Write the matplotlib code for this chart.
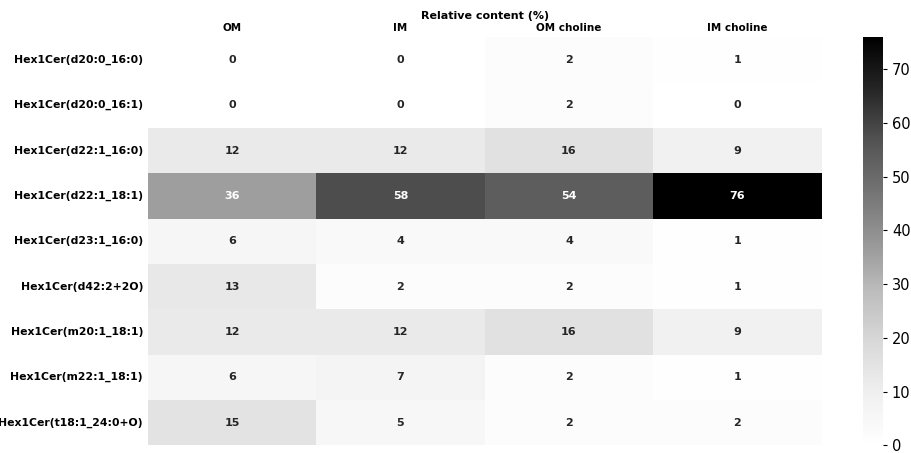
import numpy as np
import pandas as pd
import seaborn as sns
import matplotlib.pyplot as plt

lipids = ["Hex1Cer(d20:0_16:0)", "Hex1Cer(d20:0_16:1)", "Hex1Cer(d22:1_16:0)",
          "Hex1Cer(d22:1_18:1)", "Hex1Cer(d23:1_16:0)", "Hex1Cer(d42:2+2O)",
          "Hex1Cer(m20:1_18:1)", "Hex1Cer(m22:1_18:1)", "Hex1Cer(t18:1_24:0+O)"]
fractions = ["OM", "IM", "OM choline", "IM choline"]

om = [0, 0, 12, 36, 6, 13, 12, 6, 15]
im = [0, 0, 12, 58, 4, 2, 12, 7, 5]
om_choline = [2, 2, 16, 54, 4, 2, 16, 2, 2]
im_choline = [1, 0, 9, 76, 1, 1, 9, 1, 2]

df = pd.DataFrame({"OM": om, "IM": im, "OM choline": om_choline,
                   "IM choline": im_choline}, index=lipids)[fractions]

fig = plt.figure(figsize=(9.12, 4.53), dpi=100)
ax = fig.add_axes([0.162, 0.017, 0.739, 0.901])
cax = fig.add_axes([0.946, 0.017, 0.022, 0.901])

sns.heatmap(df, ax=ax, cbar_ax=cax, cmap="Greys", vmin=0,
            annot=True, fmt="d", annot_kws={"fontsize": 8, "fontweight": "bold"})

ax.xaxis.tick_top()
ax.tick_params(axis="both", length=0)
ax.set_xticklabels(fractions, fontsize=7.5, fontweight="bold", rotation=0)
ax.set_yticklabels(lipids, fontsize=7.8, fontweight="bold", rotation=0)
ax.tick_params(axis="x", pad=3)
ax.set_title("Relative content (%)", fontsize=8, fontweight="bold", pad=13)
ax.set_xlabel("")
ax.set_ylabel("")

cax.set_yticks(np.arange(0, 80, 10))
cax.tick_params(labelsize=10.5, length=3)

fig.savefig("out.png", dpi=100)
